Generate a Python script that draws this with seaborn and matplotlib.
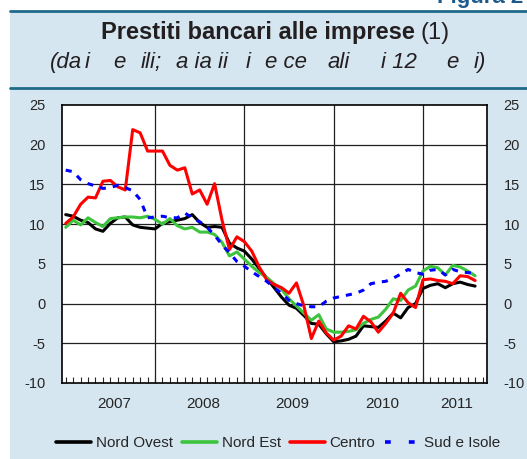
import numpy as np
import pandas as pd
import seaborn as sns
import matplotlib.pyplot as plt
from matplotlib.patches import Rectangle
from matplotlib.lines import Line2D

# mesi: gen 2007 - ago 2011 (indice mensile)
mese = np.arange(56)

nord_ovest = [11.2, 11.0, 10.5, 10.2, 9.4, 9.1, 10.1, 10.8, 10.9, 9.9,
              9.6, 9.5, 9.4, 10.1, 10.3, 10.5, 10.7, 11.2, 10.2, 9.6,
              9.7, 9.6, 7.6, 7.0, 6.6, 5.6, 4.4, 3.2, 2.0, 0.8,
              -0.2, -0.6, -1.5, -2.5, -2.6, -3.8, -4.8, -4.7, -4.5, -4.1,
              -2.8, -2.9, -3.0, -2.2, -1.2, -1.8, -0.5, 0.0, 1.9, 2.3,
              2.5, 2.0, 2.5, 2.7, 2.4, 2.2]
nord_est = [9.6, 10.5, 9.9, 10.8, 10.2, 9.7, 10.7, 10.8, 10.9, 10.9,
            10.8, 11.0, 10.6, 10.0, 10.7, 9.8, 9.4, 9.6, 9.0, 9.0,
            8.7, 7.7, 6.0, 6.5, 5.6, 4.7, 3.9, 3.3, 2.5, 1.8,
            0.6, -0.3, -1.2, -2.1, -1.4, -3.2, -3.6, -3.6, -3.5, -3.3,
            -2.5, -2.0, -1.7, -0.7, 0.6, 0.4, 1.7, 2.2, 4.1, 4.7,
            4.5, 3.6, 4.8, 4.6, 4.1, 3.5]
centro = [10.1, 10.9, 12.5, 13.4, 13.3, 15.4, 15.5, 14.7, 14.3, 21.9,
          21.5, 19.2, 19.2, 19.2, 17.4, 16.8, 17.1, 13.8, 14.3, 12.5,
          15.1, 10.5, 6.8, 8.4, 7.8, 6.6, 4.6, 3.0, 2.4, 2.0,
          1.3, 2.6, -0.3, -4.4, -2.2, -3.7, -4.6, -4.1, -2.8, -3.2,
          -1.6, -2.3, -3.6, -2.5, -1.2, 1.3, 0.1, -0.5, 3.0, 3.1,
          2.9, 2.8, 2.5, 3.5, 3.4, 2.9]
sud_isole = [16.8, 16.6, 15.6, 15.1, 14.8, 14.5, 14.6, 14.9, 14.6, 14.2,
             13.1, 10.8, 10.9, 11.0, 10.8, 10.8, 11.4, 10.8, 10.3, 9.6,
             8.6, 7.4, 6.4, 5.3, 4.7, 4.0, 3.4, 2.8, 2.0, 1.3,
             0.4, 0.0, -0.3, -0.4, -0.4, 0.3, 0.7, 0.9, 1.1, 1.3,
             1.7, 2.5, 2.7, 2.8, 3.2, 3.7, 4.3, 3.9, 3.7, 4.2,
             4.3, 3.6, 4.3, 4.0, 3.9, 3.8]

anni = ['2007', '2008', '2009', '2010', '2011']
pos_anni = [6.5, 18.5, 30.5, 42.5, 52.5]
inizio_anni = [12, 24, 36, 48]

# sottotitolo come appare (glifi mancanti nell'originale)
sottotitolo = ['(da', 'i', 'e', 'ili;', 'a ia ii', 'i', 'e ce', 'ali', 'i 12', 'e', 'i)']
x_sottotitolo = [50, 85, 113, 141, 176, 246, 265, 327, 381, 446, 474]

df = pd.DataFrame({'mese': mese, 'Nord Ovest': nord_ovest, 'Nord Est': nord_est,
                   'Centro': centro, 'Sud e Isole': sud_isole})
df = df.melt(id_vars='mese', var_name='area', value_name='var')

BG = '#d5e6f0'
TEAL = '#1f6a8a'
colori = {'Nord Ovest': '#000000', 'Nord Est': '#3cc43c', 'Centro': '#ff0000', 'Sud e Isole': '#0000ff'}
tratti = {'Nord Ovest': '', 'Nord Est': '', 'Centro': '', 'Sud e Isole': (2.0, 2.3)}

sns.set_style('white')
plt.rcParams['font.family'] = ['Liberation Sans', 'DejaVu Sans']
plt.rcParams['axes.unicode_minus'] = False

fig = plt.figure(figsize=(5.27, 4.59), dpi=100)
fig.patch.set_facecolor('white')
fig.patches.append(Rectangle((10 / 527, 0), 1, 1 - 11 / 459, transform=fig.transFigure,
                             facecolor=BG, edgecolor='none', zorder=-10))
for yy in [10.5, 88]:
    fig.add_artist(Line2D([10 / 527, 1], [1 - yy / 459] * 2, color=TEAL, lw=2))

fig.text(437 / 527, 1 - 3 / 459, 'Figura 2', color='#1d5a8c', fontsize=16,
         weight='bold', va='baseline')
fig.text(415 / 527, 1 - 39 / 459, 'Prestiti bancari alle imprese', ha='right',
         va='baseline', fontsize=17, weight='bold', color='#231f20')
fig.text(421 / 527, 1 - 39 / 459, '(1)', ha='left', va='baseline', fontsize=17, color='#231f20')
for xs, t in zip(x_sottotitolo, sottotitolo):
    fig.text(xs / 527, 1 - 68 / 459, t, ha='left', va='baseline', fontsize=16,
             style='italic', color='#231f20')

ax = fig.add_axes([62 / 527, 1 - 383 / 459, (487 - 62) / 527, (383 - 105) / 459])
ax.set_facecolor('white')

sns.lineplot(data=df, x='mese', y='var', hue='area', palette=colori, style='area',
             dashes=tratti, linewidth=2.2, ax=ax)

ax.set_xlim(-0.5, 56.6)
ax.set_ylim(-10, 25)
ax.set_yticks(range(-10, 30, 5))
ax.set_xticks(pos_anni)
ax.set_xticklabels(anni)
ax.set_xticks(np.arange(0, 57), minor=True)
ax.set_xlabel('')
ax.set_ylabel('')
ax.grid(False)
for v in range(-5, 25, 5):
    ax.axhline(v, color='#202020', lw=0.9, zorder=0)
for v in inizio_anni:
    ax.axvline(v, color='#202020', lw=0.9, zorder=0)

ax.tick_params(axis='y', left=False, right=False, labelleft=True, labelright=True,
               labelsize=10.5, pad=8.5)
ax.tick_params(axis='x', which='major', length=0, labelsize=11, pad=10)
ax.tick_params(axis='x', which='minor', direction='in', length=4, width=0.8, bottom=True)
for s in ax.spines.values():
    s.set_color('black')
    s.set_linewidth(1.2)

leg = ax.get_legend()
handles = leg.legend_handles
labels = [t.get_text() for t in leg.get_texts()]
leg.remove()
for h in handles:
    h.set_linewidth(2.6)
handles[3].set_dashes((1.6, 5.0))
fig.legend(handles, labels, loc='center', bbox_to_anchor=(0.528, 1 - 443 / 459), ncol=4,
           frameon=False, fontsize=11, handlelength=2.3, handletextpad=0.3,
           columnspacing=0.6)

fig.savefig('out.png', dpi=100)
